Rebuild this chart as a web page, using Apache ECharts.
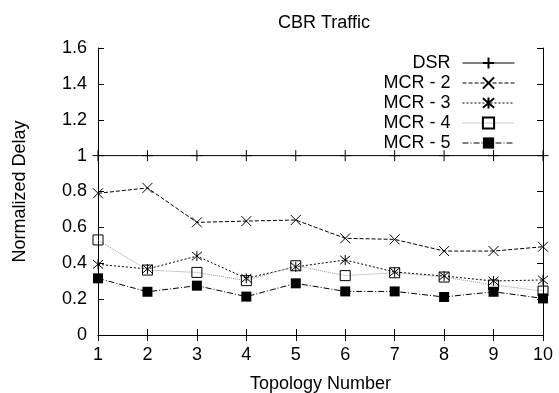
<!DOCTYPE html>
<html>
<head>
<meta charset="utf-8">
<script src="https://cdn.jsdelivr.net/npm/echarts@6/dist/echarts.min.js"></script>
<style>
  html, body { margin: 0; padding: 0; background: #fff; }
  #chart { width: 559px; height: 393px; }
</style>
</head>
<body>
<div id="chart"></div>
<script>
const topology = [1, 2, 3, 4, 5, 6, 7, 8, 9, 10];
const dsr = [1, 1, 1, 1, 1, 1, 1, 1, 1, 1];
const mcr2 = [0.79, 0.82, 0.628, 0.635, 0.641, 0.539, 0.533, 0.468, 0.468, 0.492];
const mcr3 = [0.394, 0.368, 0.44, 0.316, 0.38, 0.418, 0.351, 0.329, 0.301, 0.307];
const mcr4 = [0.53, 0.362, 0.349, 0.303, 0.386, 0.331, 0.347, 0.323, 0.279, 0.245];
const mcr5 = [0.316, 0.241, 0.275, 0.214, 0.288, 0.243, 0.243, 0.212, 0.241, 0.204];

const font = 'Liberation Sans, Arial, sans-serif';
const plus = 'path://M5,0L5,10M0,5L10,5';
const cross = 'path://M0,0L10,10M10,0L0,10';
const star = 'path://M0,0L10,10M10,0L0,10M5,-1L5,11';

const pairs = (ys) => topology.map((x, i) => [x, ys[i]]);

const mkSeries = (name, ys, symbol, size, dash, lineColor, itemStyle) => ({
  name,
  type: 'line',
  data: pairs(ys),
  symbol,
  symbolSize: size,
  clip: false,
  lineStyle: { color: lineColor, width: 1, type: dash },
  itemStyle,
  emphasis: { disabled: true },
  z: 3
});

const strokeOnly = { color: 'transparent', borderColor: '#000', borderWidth: 1 };

const chart = echarts.init(document.getElementById('chart'));

const axisBase = {
  type: 'value',
  axisLine: { show: true, lineStyle: { color: '#000', width: 1 } },
  axisTick: { show: true, inside: true, length: 6, lineStyle: { color: '#000' } },
  splitLine: { show: false }
};

chart.setOption({
  animation: false,
  backgroundColor: '#fff',
  title: {
    text: 'CBR Traffic',
    left: 319,
    top: 9,
    textAlign: 'center',
    textStyle: { fontFamily: font, fontSize: 18, fontWeight: 'normal', color: '#000' }
  },
  grid: { left: 98, right: 16, top: 48, bottom: 58, outerBoundsMode: 'none', containLabel: false },
  legend: {
    orient: 'vertical',
    right: 39,
    top: 49,
    align: 'right',
    itemWidth: 52,
    itemHeight: 14,
    itemGap: 2,
    lineStyle: { width: 1 },
    textStyle: { fontFamily: font, fontSize: 18, color: '#000', padding: [0, 7, 0, 0] },
    data: ['DSR', 'MCR - 2', 'MCR - 3', 'MCR - 4', 'MCR - 5']
  },
  xAxis: [
    Object.assign({}, axisBase, {
      min: 1, max: 10, interval: 1,
      name: 'Topology Number',
      nameLocation: 'middle',
      nameGap: 40,
      nameTextStyle: { fontFamily: font, fontSize: 18, color: '#000' },
      axisLabel: { fontFamily: font, fontSize: 18, color: '#000', margin: 11 }
    }),
    Object.assign({}, axisBase, {
      position: 'top', min: 1, max: 10, interval: 1,
      axisLabel: { show: false }
    })
  ],
  yAxis: [
    Object.assign({}, axisBase, {
      min: 0, max: 1.6, interval: 0.2,
      name: 'Normalized Delay',
      nameLocation: 'middle',
      nameGap: 69,
      nameTextStyle: { fontFamily: font, fontSize: 18, color: '#000' },
      axisLabel: { fontFamily: font, fontSize: 18, color: '#000', margin: 11 }
    }),
    Object.assign({}, axisBase, {
      position: 'right', min: 0, max: 1.6, interval: 0.2,
      axisLabel: { show: false }
    })
  ],
  series: [
    mkSeries('DSR', dsr, plus, 11, 'solid', '#000', strokeOnly),
    mkSeries('MCR - 2', mcr2, cross, 10, [4, 2], '#000', strokeOnly),
    mkSeries('MCR - 3', mcr3, star, 10, [2, 2], '#000', strokeOnly),
    mkSeries('MCR - 4', mcr4, 'rect', 10, [1, 1], '#999', strokeOnly),
    mkSeries('MCR - 5', mcr5, 'rect', 10, [6, 2, 1, 2], '#000', { color: '#000', borderColor: '#000', borderWidth: 0 })
  ]
});
</script>
</body>
</html>
